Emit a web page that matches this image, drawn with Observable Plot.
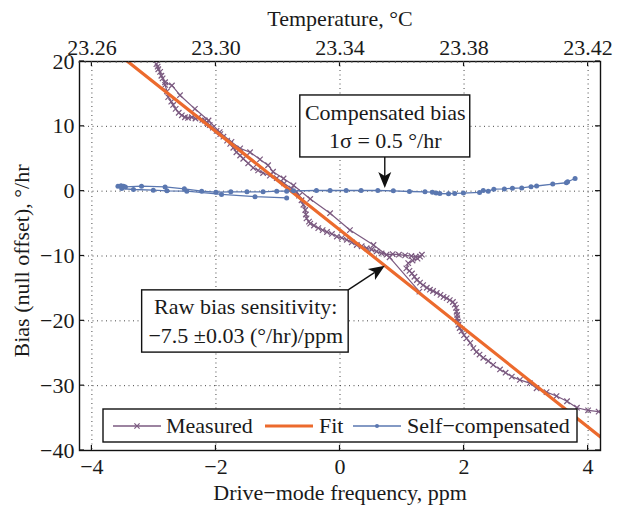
<!DOCTYPE html>
<html><head><meta charset="utf-8">
<script src="https://cdn.jsdelivr.net/npm/d3@7"></script>
<script src="https://cdn.jsdelivr.net/npm/@observablehq/plot@0.6"></script>
<style>
html,body{margin:0;padding:0;background:#fff;}
#chart svg{display:block;}
</style>
</head><body><div id="chart"></div>
<script>
// ---------- data ----------
const seriesNames = ["Measured", "Fit", "Self\u2212compensated"];
const seriesColors = ["#7b5a80", "#ec6a2d", "#5a77b0"];

const xTicks = [-4, -2, 0, 2, 4];
const yTicks = [-40, -30, -20, -10, 0, 10, 20];
const tempLabels = ["23.26", "23.30", "23.34", "23.38", "23.42"];

// measured bias vs drive-mode frequency (one continuous record)
const measuredX = [
  1.28, 0.80, 0.54, 0.16, -0.16, -0.48, -0.75, -0.91, -1.08, -1.16, -1.29, -1.45, -1.61, -1.75, -1.94, -2.12, -2.34, -2.58, -2.71, -2.82, -2.88, -2.93, -2.96,
  -2.94, -2.90, -2.86, -2.82, -2.79, -2.77, -2.72, -2.69, -2.65, -2.60, -2.55, -2.50, -2.45, -2.39, -2.33, -2.28, -2.22, -2.18, -2.14, -2.10, -2.05, -1.99, -1.93, -1.88, -1.82, -1.77, -1.72, -1.67, -1.61, -1.56, -1.48, -1.40, -1.32, -1.24, -1.13, -1.02, -0.90, -0.78, -0.70, -0.66, -0.62, -0.59, -0.56, -0.55, -0.54, -0.50, -0.48, -0.42, -0.35, -0.28, -0.21, -0.13, -0.05, 0.03, 0.11, 0.19, 0.27, 0.35, 0.43, 0.51, 0.59, 0.67, 0.75, 0.85, 0.95, 1.05, 1.15, 1.22, 1.29, 1.32, 1.25, 1.17, 1.10, 1.07, 1.12, 1.16, 1.20, 1.24, 1.29, 1.34, 1.40, 1.45, 1.50, 1.56, 1.62, 1.67, 1.72, 1.77, 1.82, 1.85, 1.87, 1.88, 1.89, 1.89, 1.90, 1.91, 1.93, 1.96, 2.00, 2.04, 2.10, 2.15, 2.20, 2.25, 2.31, 2.39, 2.47, 2.58, 2.67, 2.77, 2.90, 3.06, 3.17, 3.33, 3.49, 3.66, 3.82, 4.00, 4.17, 4.30
];
const measuredY = [
  -15.5, -10.2, -8.3, -6.0, -3.4, -1.2, 0.9, 1.95, 3.0, 4.0, 4.9, 6.0, 6.6, 7.6, 9.1, 10.9, 12.7, 14.8, 16.3, 16.8, 17.8, 18.8, 19.6,
  19.2, 18.4, 17.4, 16.4, 15.4, 14.5, 13.8, 13.3, 12.7, 12.1, 11.7, 11.4, 11.3, 11.4, 11.2, 11.4, 11.0, 10.9, 10.5, 10.2, 9.8, 9.3, 8.8, 8.4, 7.8, 7.3, 6.7, 6.0, 5.5, 5.0, 4.3, 3.6, 3.2, 2.8, 2.4, 2.0, 1.2, 0.4, -0.1, -0.7, -1.4, -2.1, -2.9, -3.6, -4.2, -4.7, -5.0, -5.3, -5.7, -6.0, -6.3, -6.6, -7.0, -7.2, -7.5, -7.9, -8.3, -8.5, -8.8, -9.0, -9.3, -9.6, -9.8, -9.7, -9.8, -9.9, -10.0, -10.1, -10.1, -9.8, -10.4, -10.7, -11.1, -11.9, -12.3, -12.7, -13.2, -13.7, -14.1, -14.5, -14.9, -15.2, -15.4, -15.7, -16.0, -16.3, -16.5, -16.8, -17.1, -17.5, -18.0, -18.6, -19.1, -19.6, -20.1, -20.6, -21.1, -21.6, -22.2, -22.7, -23.4, -24.2, -24.8, -25.2, -25.7, -26.2, -26.8, -27.5, -28.0, -28.6, -29.1, -29.6, -30.4, -31.0, -31.6, -32.4, -33.4, -33.8, -34.0, -34.3
];

// linear fit
const fitX = [-4.2, 4.2];
const fitY = [25.9, -37.9];

// self-compensated bias
const compX = [
  -0.86, -1.37, -1.91, -2.47, -2.79, -3.01, -3.33, -3.52, -3.58, -3.53, -3.49, -3.46, -3.20, -2.82, -2.51, -2.23, -2.00, -1.76, -1.50, -1.24, -1.02, -0.86, -0.75, -0.38, -0.16, 0.10, 0.34, 0.61, 0.86, 1.12, 1.37, 1.49, 1.55, 1.61, 1.75, 1.85, 1.99, 2.25, 2.31, 2.39, 2.48, 2.65, 2.78, 2.93, 3.08, 3.17, 3.43, 3.65, 3.67, 3.79
];
const compY = [
  -1.05, -0.85, -0.5, 0.0, 0.05, 0.15, 0.26, 0.4, 0.77, 0.85, 0.77, 0.66, 0.77, 0.66, 0.36, 0.0, -0.15, -0.1, -0.1, -0.1, 0.0, 0.0, 0.05, 0.1, 0.1, 0.1, 0.1, 0.1, 0.05, -0.05, -0.1, -0.15, -0.3, -0.36, -0.4, -0.35, -0.3, -0.2, 0.1, 0.0, 0.3, 0.35, 0.45, 0.5, 0.7, 0.8, 1.1, 1.3, 1.45, 1.95
];

// annotations
const compNoteLines = ["Compensated bias", "1\u03c3 = 0.5 \u00b0/hr"];
const rawNoteLines = ["Raw bias sensitivity:", "\u22127.5 \u00b10.03 (\u00b0/hr)/ppm"];

// ---------- build ----------
const measured = measuredX.map((x, i) => ({x, y: measuredY[i]}));
const fit = fitX.map((x, i) => ({x, y: fitY[i]}));
const comp = compX.map((x, i) => ({x, y: compY[i]}));

const FONT = "'Liberation Serif', 'Times New Roman', serif";
const fmt = d => d < 0 ? "\u2212" + Math.abs(d) : String(d);
const W = 618, H = 511, ML = 79, MR = 18, MT = 61, MB = 61;

const compBox = {x1: -0.64, x2: 2.10, y1: 5.2, y2: 14.76, cx: 0.73, lines: [12.1, 7.8], tip: [0.73, 0.42]};
const rawBox = {x1: -3.19, x2: 0.14, y1: -24.9, y2: -15.3, cx: -1.52, lines: [-17.9, -22.4], tip: [0.73, -11.57]};

const chart = Plot.plot({
  width: W, height: H,
  marginLeft: ML, marginRight: MR, marginTop: MT, marginBottom: MB,
  style: {fontFamily: FONT, fontSize: "22px", color: "#1a1a1a", background: "#fff", overflow: "visible"},
  x: {domain: [-4.2, 4.2]},
  y: {domain: [-40, 20]},
  marks: [
    Plot.gridX(xTicks, {stroke: "#333", strokeOpacity: 0.9, strokeWidth: 1, strokeDasharray: "1,3.5"}),
    Plot.gridY(yTicks, {stroke: "#333", strokeOpacity: 0.9, strokeWidth: 1, strokeDasharray: "1,3.5"}),
    Plot.line(measured, {x: "x", y: "y", stroke: seriesColors[0], strokeWidth: 1.2, clip: true}),
    Plot.dot(measured, {x: "x", y: "y", symbol: "times", r: 2.6, stroke: seriesColors[0], strokeWidth: 1.2, clip: true}),
    Plot.line(fit, {x: "x", y: "y", stroke: seriesColors[1], strokeWidth: 3.2, clip: true}),
    Plot.line(comp, {x: "x", y: "y", stroke: seriesColors[2], strokeWidth: 1.3, clip: true}),
    Plot.dot(comp, {x: "x", y: "y", r: 2.5, fill: seriesColors[2], stroke: "none", clip: true}),
    // annotation boxes
    Plot.rect([compBox, rawBox], {x1: "x1", x2: "x2", y1: "y1", y2: "y2", fill: "#fff", stroke: "#111", strokeWidth: 1.4}),
    Plot.text(compNoteLines, {x: () => compBox.cx, y: (d, i) => compBox.lines[i], text: d => d, fontSize: 22, fill: "#1a1a1a"}),
    Plot.text(rawNoteLines, {x: () => rawBox.cx, y: (d, i) => rawBox.lines[i], text: d => d, fontSize: 22, fill: "#1a1a1a"}),
    Plot.frame({stroke: "#111", strokeWidth: 1.4}),
    // axes
    Plot.axisX(xTicks, {anchor: "bottom", tickSize: 0, tickPadding: 8, tickFormat: fmt, label: null, fontSize: 22}),
    Plot.axisX(xTicks, {anchor: "top", tickSize: 0, tickPadding: 7, tickFormat: d => tempLabels[xTicks.indexOf(d)], label: null, fontSize: 22}),
    Plot.axisY(yTicks, {anchor: "left", tickSize: 0, tickPadding: 5, tickFormat: fmt, label: null, fontSize: 22}),
    Plot.text(["Drive\u2212mode frequency, ppm"], {frameAnchor: "bottom", lineAnchor: "middle", textAnchor: "middle", dy: 42, fontSize: 22, fill: "#1a1a1a"}),
    Plot.text(["Temperature, \u00b0C"], {frameAnchor: "top", lineAnchor: "middle", textAnchor: "middle", dy: -43, fontSize: 22, fill: "#1a1a1a"}),
    Plot.text(["Bias (null offset), \u00b0/hr"], {frameAnchor: "left", lineAnchor: "middle", textAnchor: "middle", dx: -58, dy: 5, rotate: -90, fontSize: 22, fill: "#1a1a1a"})
  ]
});

document.getElementById("chart").appendChild(chart);

// ---------- decorations using the chart's scales ----------
const sx = v => chart.scale("x").apply(v);
const sy = v => chart.scale("y").apply(v);
const svg = d3.select(chart);
const X0 = ML, X1 = W - MR, Y0 = MT, Y1 = H - MB;

// inward ticks
const tg = svg.append("g").attr("stroke", "#111").attr("stroke-width", 1.2);
for (const v of xTicks) {
  tg.append("line").attr("x1", sx(v)).attr("x2", sx(v)).attr("y1", Y1).attr("y2", Y1 - 5);
  tg.append("line").attr("x1", sx(v)).attr("x2", sx(v)).attr("y1", Y0).attr("y2", Y0 + 5);
}
for (const v of yTicks) {
  tg.append("line").attr("y1", sy(v)).attr("y2", sy(v)).attr("x1", X0).attr("x2", X0 + 5);
  tg.append("line").attr("y1", sy(v)).attr("y2", sy(v)).attr("x1", X1).attr("x2", X1 - 5);
}
// fine minor ticks along top (temperature) axis
const mg = svg.append("g").attr("stroke", "#555").attr("stroke-width", 0.8);
for (let v = -4.2; v <= 4.2; v += 0.1) {
  mg.append("line").attr("x1", sx(v)).attr("x2", sx(v)).attr("y1", Y0).attr("y2", Y0 + 2);
}

// arrows with filled heads
function arrow(x1, y1, x2, y2) {
  const a = [x1, y1], b = [x2, y2];
  const ang = Math.atan2(b[1] - a[1], b[0] - a[0]);
  const L = 16, hw = 6.5, notch = 4;
  const ux = Math.cos(ang), uy = Math.sin(ang), px = -uy, py = ux;
  const bx = b[0] - ux * L, by = b[1] - uy * L;
  const nx = b[0] - ux * (L - notch), ny = b[1] - uy * (L - notch);
  svg.append("line").attr("x1", a[0]).attr("y1", a[1]).attr("x2", nx).attr("y2", ny)
    .attr("stroke", "#111").attr("stroke-width", 1.4);
  svg.append("path")
    .attr("d", `M${b[0]},${b[1]}L${bx + px * hw},${by + py * hw}L${nx},${ny}L${bx - px * hw},${by - py * hw}Z`)
    .attr("fill", "#111");
}
arrow(sx(compBox.cx), sy(compBox.y1), sx(compBox.tip[0]), sy(compBox.tip[1]));
arrow(sx(rawBox.x2), sy(rawBox.y2), sx(rawBox.tip[0]), sy(rawBox.tip[1]));

// legend
const lg = svg.append("g").attr("font-family", FONT).attr("font-size", 22).attr("fill", "#1a1a1a").attr("text-anchor", "start");
const LX = X0 + 24, LY = 409, LW = 474, LH = 33, LC = LY + LH / 2 + 0.5;
lg.append("rect").attr("x", LX).attr("y", LY).attr("width", LW).attr("height", LH)
  .attr("fill", "#fff").attr("stroke", "#111").attr("stroke-width", 1.4);
const entries = [
  {x: LX + 10, tx: LX + 63},
  {x: LX + 162, tx: LX + 216},
  {x: LX + 250, tx: LX + 304}
];
entries.forEach((e, i) => {
  lg.append("line").attr("x1", e.x).attr("x2", e.x + 48).attr("y1", LC).attr("y2", LC)
    .attr("stroke", seriesColors[i]).attr("stroke-width", i === 1 ? 3.2 : 1.3);
  if (i === 0) {
    const c = e.x + 24, s = 2.6;
    lg.append("path").attr("d", `M${c - s},${LC - s}L${c + s},${LC + s}M${c - s},${LC + s}L${c + s},${LC - s}`)
      .attr("stroke", seriesColors[0]).attr("stroke-width", 1.2);
  }
  if (i === 2) lg.append("circle").attr("cx", e.x + 24).attr("cy", LC).attr("r", 2).attr("fill", seriesColors[2]);
  lg.append("text").attr("x", e.tx).attr("y", LC).attr("dy", "0.33em").attr("text-anchor", "start").text(seriesNames[i]);
});
</script>
</body></html>
